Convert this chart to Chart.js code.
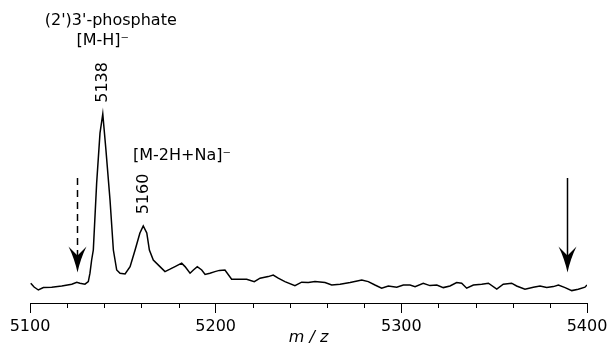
<!DOCTYPE html>
<html>
<head>
<meta charset="utf-8">
<script src="https://cdn.jsdelivr.net/npm/chart.js@4/dist/chart.umd.min.js"></script>
<style>
  body { margin: 0; background: #fff; }
</style>
</head>
<body>
<canvas id="c" width="611" height="346"></canvas>
<script>
// spectrum trace, m/z vs. relative intensity
const mz = [5100.4, 5102.2, 5104.5, 5107.2, 5111.7, 5117.1, 5122.5, 5125.2, 5126.9, 5129.6,
  5131.4, 5132.3, 5133.2, 5134.1, 5135.9, 5137.7, 5139.2, 5140.9, 5143.1, 5144.9,
  5146.7, 5148.5, 5151.2, 5153.9, 5156.6, 5159.2, 5161.0, 5162.9, 5164.3, 5166.4,
  5170.0, 5172.7, 5175.4, 5178.1, 5181.7, 5183.5, 5186.2, 5188.0, 5190.1, 5192.5,
  5194.3, 5196.9, 5199.6, 5202.0, 5205.0, 5208.6, 5212.2, 5216.7, 5220.8, 5223.9,
  5228.3, 5231.0, 5233.7, 5237.3, 5242.7, 5246.3, 5249.9, 5253.5, 5258.9, 5262.5,
  5267.0, 5272.4, 5278.7, 5282.2, 5285.8, 5289.4, 5293.0, 5297.5, 5301.1, 5304.7,
  5307.4, 5311.8, 5315.4, 5319.1, 5322.6, 5326.2, 5329.8, 5332.5, 5335.2, 5338.8,
  5343.3, 5346.9, 5351.4, 5354.9, 5359.4, 5362.1, 5366.6, 5371.1, 5374.7, 5378.3,
  5381.9, 5384.6, 5388.2, 5391.8, 5395.3, 5398.9, 5400.0];
const intensity = [9.9, 8.0, 6.5, 7.7, 7.9, 8.5, 9.4, 10.4, 9.9, 9.4,
  10.7, 14.9, 21.5, 26.5, 60.0, 84.9, 94.5, 76.5, 51.5, 26.5,
  16.5, 14.9, 14.5, 18.2, 26.5, 35.0, 38.5, 35.0, 26.5, 21.5,
  18.2, 15.7, 16.9, 18.2, 19.9, 18.2, 14.9, 16.5, 18.2, 16.5,
  14.3, 14.9, 15.7, 16.3, 16.5, 11.9, 11.9, 11.9, 10.7, 12.4,
  13.2, 14.0, 12.4, 10.7, 8.7, 10.4, 10.2, 10.7, 10.2, 9.0,
  9.4, 10.2, 11.5, 10.7, 9.0, 7.4, 8.5, 7.9, 9.0, 9.0,
  8.2, 9.9, 8.7, 9.0, 7.7, 8.5, 10.2, 9.9, 7.4, 9.0,
  9.4, 9.9, 7.0, 9.4, 9.9, 8.5, 6.9, 7.9, 8.5, 7.7,
  8.2, 9.0, 7.7, 6.2, 6.9, 7.9, 9.0];

const majorTicks = [5100, 5200, 5300, 5400];
const minorTicks = [5120, 5140, 5160, 5180, 5220, 5240, 5260, 5280, 5320, 5340, 5360, 5380];

const peakLabels = ['5138', '5160'];
const ionLabels = ["(2')3'-phosphate", '[M-H]⁻', '[M-2H+Na]⁻'];
const arrowMz = [5125.3, 5389.2];

const FONT = '"DejaVu Sans", sans-serif';

// minor ticks, labels and arrows
const annotations = {
  id: 'annotations',
  afterDraw(chart) {
    const { ctx, scales: { x, y } } = chart;
    ctx.save();
    ctx.strokeStyle = '#000';
    ctx.fillStyle = '#000';

    // short minor ticks under the axis line
    ctx.lineWidth = 1;
    ctx.beginPath();
    minorTicks.forEach(v => {
      const px = Math.round(x.getPixelForValue(v)) + 0.5;
      ctx.moveTo(px, x.top);
      ctx.lineTo(px, x.top + 5);
    });
    ctx.stroke();

    ctx.font = '16px ' + FONT;
    ctx.textBaseline = 'middle';
    ctx.textAlign = 'center';
    ctx.fillText(ionLabels[0], x.getPixelForValue(5143.5), y.getPixelForValue(141));
    ctx.fillText(ionLabels[1], x.getPixelForValue(5139.2), y.getPixelForValue(131));
    ctx.textAlign = 'left';
    ctx.fillText(ionLabels[2], x.getPixelForValue(5155.5), y.getPixelForValue(73.5));

    // rotated peak labels
    [[peakLabels[0], 5139.3, 110.3], [peakLabels[1], 5161.1, 54.5]].forEach(([t, mx, my]) => {
      ctx.save();
      ctx.translate(x.getPixelForValue(mx), y.getPixelForValue(my));
      ctx.rotate(-Math.PI / 2);
      ctx.textAlign = 'center';
      ctx.fillText(t, 0, 0);
      ctx.restore();
    });

    // arrows: dashed one at the left, solid one at the right
    arrowMz.forEach((m, i) => {
      const ax = Math.round(x.getPixelForValue(m)) + 0.5;
      const top = y.getPixelForValue(62.5);
      const tip = y.getPixelForValue(15.3);
      ctx.lineWidth = 1.5;
      ctx.setLineDash(i === 0 ? [7, 5] : []);
      ctx.beginPath();
      ctx.moveTo(ax, top);
      ctx.lineTo(ax, tip - 14);
      ctx.stroke();
      ctx.setLineDash([]);
      ctx.beginPath();
      ctx.moveTo(ax, tip);
      ctx.quadraticCurveTo(ax - 3, tip - 14, ax - 9, tip - 26);
      ctx.lineTo(ax, tip - 17);
      ctx.lineTo(ax + 9, tip - 26);
      ctx.quadraticCurveTo(ax + 3, tip - 14, ax, tip);
      ctx.closePath();
      ctx.fill();
    });
    ctx.restore();
  }
};

new Chart(document.getElementById('c'), {
  type: 'line',
  data: {
    datasets: [{
      data: mz.map((m, i) => ({ x: m, y: intensity[i] })),
      borderColor: '#000',
      borderWidth: 1.5,
      pointRadius: 0,
      tension: 0,
      fill: false
    }]
  },
  options: {
    responsive: false,
    animation: false,
    layout: { padding: { top: 3, left: 30, right: 24, bottom: 0 } },
    plugins: { legend: { display: false }, tooltip: { enabled: false } },
    scales: {
      x: {
        type: 'linear',
        min: 5100,
        max: 5400,
        afterBuildTicks: s => { s.ticks = majorTicks.map(v => ({ value: v })); },
        afterFit: s => { s.height = 43; s.paddingLeft = 0; s.paddingRight = 0; },
        grid: { drawOnChartArea: false, tickLength: 10, color: '#000', tickColor: '#000' },
        border: { display: true, color: '#000', width: 1 },
        ticks: {
          color: '#000',
          padding: 6,
          maxRotation: 0,
          font: { family: FONT, size: 16, lineHeight: 1 },
          callback: v => String(v)
        },
        title: {
          display: true,
          text: 'm / z',
          color: '#000',
          padding: { top: 0, bottom: 0 },
          font: { family: FONT, size: 16, style: 'italic', lineHeight: 1 }
        }
      },
      y: { display: false, min: 0, max: 150 }
    }
  },
  plugins: [annotations]
});
</script>
</body>
</html>
